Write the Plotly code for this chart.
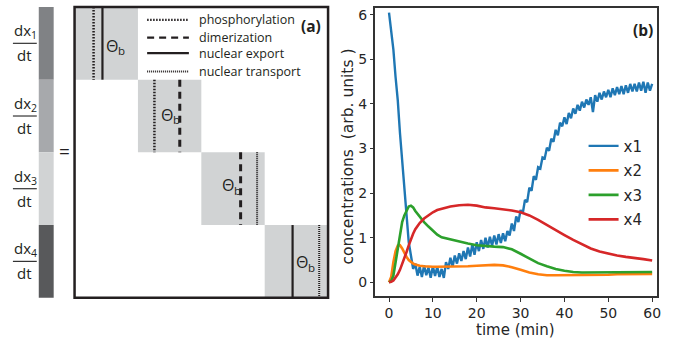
import plotly.graph_objects as go

# ---------------- panel (b) data ----------------
t_x1 = [i * 0.5 for i in range(121)]
x1 = [6.05, 5.62, 5.22, 4.6, 4.08, 3.35, 2.78, 2.05, 1.55, 0.9, 0.6, 0.3, 0.42,
      0.15, 0.35, 0.12, 0.38, 0.16, 0.33, 0.1, 0.36, 0.14, 0.35, 0.12, 0.3,
      0.1, 0.45, 0.3, 0.55, 0.35, 0.6, 0.42, 0.65, 0.48, 0.7, 0.52, 0.78,
      0.58, 0.85, 0.62, 0.9, 0.7, 0.95, 0.75, 1.0, 0.78, 1.02, 0.82, 1.05,
      0.85, 1.08, 0.88, 1.1, 0.92, 1.15, 1.05, 1.32, 1.15, 1.48, 1.35, 1.62,
      1.55, 1.85, 1.8, 2.12, 2.05, 2.38, 2.3, 2.58, 2.55, 2.8, 2.78, 3.02,
      2.95, 3.22, 3.15, 3.42, 3.3, 3.58, 3.5, 3.7, 3.55, 3.8, 3.68, 3.9,
      3.78, 3.98, 3.85, 4.05, 3.92, 4.1, 3.98, 4.15, 3.82, 4.2, 4.05, 4.25,
      4.1, 4.28, 4.15, 4.32, 4.15, 4.35, 4.2, 4.38, 4.22, 4.4, 4.22, 4.42,
      4.25, 4.45, 4.28, 4.45, 4.28, 4.48, 4.3, 4.5, 4.25, 4.48, 4.3, 4.45]

t_s = [0, 0.5, 1, 1.5, 2, 2.5, 3, 3.5, 4, 4.5, 5, 5.5, 6, 7, 8, 9, 10, 11, 12,
       14, 16, 18, 20, 22, 24, 26, 28, 30, 32, 34, 36, 38, 40, 42, 44, 46, 48,
       50, 52, 54, 56, 58, 60]
x2 = [0, 0.12, 0.45, 0.7, 0.82, 0.83, 0.76, 0.66, 0.57, 0.5, 0.45, 0.42, 0.4,
      0.37, 0.36, 0.35, 0.35, 0.35, 0.35, 0.35, 0.35, 0.36, 0.37, 0.38, 0.39,
      0.38, 0.34, 0.28, 0.22, 0.18, 0.16, 0.16, 0.16, 0.16, 0.16, 0.16, 0.17,
      0.17, 0.18, 0.18, 0.18, 0.19, 0.19]
x3 = [0, 0.03, 0.15, 0.45, 0.8, 1.1, 1.35, 1.5, 1.62, 1.7, 1.72, 1.68, 1.6,
      1.47, 1.35, 1.25, 1.16, 1.07, 1.01, 0.96, 0.92, 0.87, 0.83, 0.81, 0.8,
      0.79, 0.74, 0.64, 0.53, 0.43, 0.36, 0.3, 0.26, 0.23, 0.22, 0.22, 0.22,
      0.22, 0.22, 0.22, 0.23, 0.23, 0.23]
x4 = [0, 0.01, 0.04, 0.1, 0.18, 0.28, 0.4, 0.53, 0.68, 0.83, 0.97, 1.09, 1.19,
      1.33, 1.43, 1.51, 1.57, 1.62, 1.65, 1.7, 1.73, 1.74, 1.72, 1.68, 1.66,
      1.64, 1.61, 1.57, 1.5, 1.4, 1.28, 1.17, 1.06, 0.95, 0.85, 0.76, 0.69,
      0.64, 0.6, 0.57, 0.55, 0.52, 0.49]

series_names = ["x1", "x2", "x3", "x4"]
series_colors = ["#1f77b4", "#ff7f0e", "#2ca02c", "#d62728"]
x_ticks = [0, 10, 20, 30, 40, 50, 60]
y_ticks = [0, 1, 2, 3, 4, 5, 6]

# ---------------- panel (a) data ----------------
row_index = [0, 1, 2, 3]
row_labels = ["dx<sub>1</sub>", "dx<sub>2</sub>", "dx<sub>3</sub>", "dx<sub>4</sub>"]
row_colors = ["#808285", "#a7a9ac", "#d1d3d4", "#58595b"]
block_kinds = [["phos", "export"], ["phos", "dimer"], ["dimer", "transport"], ["export", "transport"]]
legend_kinds = ["phos", "dimer", "export", "transport"]
legend_labels = ["phosphorylation", "dimerization", "nuclear export", "nuclear transport"]

# ---------------- styling / layout constants ----------------
W, H = 685, 340
FONT_L = "Open Sans"
FONT_R = "DejaVu Sans"
INK = "#231f20"
block_line_frac = [[0.30, 0.44], [0.26, 0.66], [0.62, 0.88], [0.44, 0.86]]
theta_frac = [(0.46, 0.53), (0.33, 0.48), (0.29, 0.45), (0.47, 0.51)]
kind_style = {
    "phos": dict(color=INK, width=2.5, dash="1.5px,1.5px"),
    "dimer": dict(color=INK, width=3, dash="7px,5px"),
    "export": dict(color=INK, width=2.2, dash="solid"),
    "transport": dict(color=INK, width=2, dash="1px,1px"),
}

# left panel unit mapping (matrix units)
L_X0, L_UX = 75.0, 63.75
L_Y0, L_UY = 6.0, 72.9


def lx(px):
    return (px - L_X0) / L_UX


def ly(py):
    return (py - L_Y0) / L_UY


fig = go.Figure()

# panel (b) traces
fig.add_trace(go.Scatter(x=t_x1, y=x1, mode="lines", name=series_names[0],
                         line=dict(color=series_colors[0], width=2.4),
                         legendgroup="g1", xaxis="x", yaxis="y"))
for nm, col, ys, lg in zip(series_names[1:], series_colors[1:], [x2, x3, x4], ["g2", "g3", "g4"]):
    fig.add_trace(go.Scatter(x=t_s, y=ys, mode="lines", name=nm,
                             line=dict(color=col, width=2.6),
                             legendgroup=lg, xaxis="x", yaxis="y"))

# invisible trace to activate the left (matrix) axes
fig.add_trace(go.Scatter(x=[0], y=[0], mode="markers", marker=dict(opacity=0),
                         showlegend=False, hoverinfo="skip", xaxis="x2", yaxis="y2"))

shapes = []
annotations = []

# left column of coloured bars with d x_i / dt labels
for i, c in zip(row_index, row_colors):
    shapes.append(dict(type="rect", xref="x2", yref="y2", x0=lx(39), x1=lx(54),
                       y0=i, y1=i + 1, fillcolor=c, line=dict(width=0)))
    shapes.append(dict(type="line", xref="x2", yref="y2", x0=lx(13), x1=lx(37),
                       y0=i + 0.5, y1=i + 0.5, line=dict(color="#333333", width=1.2)))
    annotations.append(dict(xref="x2", yref="y2", x=lx(26), y=i + 0.5, text=row_labels[i],
                            showarrow=False, xanchor="center", yanchor="bottom", yshift=-1,
                            font=dict(family=FONT_L, size=15, color=INK)))
    annotations.append(dict(xref="x2", yref="y2", x=lx(25), y=i + 0.5, text="dt",
                            showarrow=False, xanchor="center", yanchor="top", yshift=0,
                            font=dict(family=FONT_L, size=15, color=INK)))

# grey diagonal blocks
for i in row_index:
    shapes.append(dict(type="rect", xref="x2", yref="y2", x0=i, x1=i + 1, y0=i, y1=i + 1,
                       fillcolor="#d1d3d4", line=dict(width=0)))
    for f, k in zip(block_line_frac[i], block_kinds[i]):
        shapes.append(dict(type="line", xref="x2", yref="y2", x0=i + f, x1=i + f,
                           y0=i, y1=i + 1, line=kind_style[k]))
    tf = theta_frac[i]
    annotations.append(dict(xref="x2", yref="y2", x=i + tf[0], y=i + tf[1],
                            text="\u0398", showarrow=False, xanchor="left", yanchor="middle",
                            font=dict(family=FONT_L, size=16, color=INK)))
    annotations.append(dict(xref="x2", yref="y2", x=i + tf[0], y=i + tf[1],
                            text="b", showarrow=False, xanchor="left", yanchor="middle",
                            xshift=12, yshift=-5,
                            font=dict(family=FONT_L, size=11.5, color=INK)))

# matrix outline
shapes.append(dict(type="rect", xref="x2", yref="y2", x0=0, x1=4, y0=0, y1=4,
                   line=dict(color=INK, width=2.5)))

# legend of panel (a)
leg_rows_px = [19, 36.7, 52.3, 70.7]
for py, k, lab in zip(leg_rows_px, legend_kinds, legend_labels):
    st = dict(kind_style[k])
    st["width"] = min(st["width"], 2.2)
    shapes.append(dict(type="line", xref="x2", yref="y2", x0=lx(148), x1=lx(190),
                       y0=ly(py), y1=ly(py), line=st))
    annotations.append(dict(xref="x2", yref="y2", x=lx(198), y=ly(py), text=lab,
                            showarrow=False, xanchor="left", yanchor="middle",
                            font=dict(family=FONT_L, size=12.5, color=INK)))

annotations.append(dict(xref="x2", yref="y2", x=lx(313), y=ly(25), text="<b>(a)</b>",
                        showarrow=False, xanchor="center", yanchor="middle",
                        font=dict(family=FONT_L, size=15.5, color=INK)))
annotations.append(dict(xref="x2", yref="y2", x=lx(64.5), y=ly(150), text="=",
                        showarrow=False, xanchor="center", yanchor="middle",
                        font=dict(family=FONT_L, size=19, color=INK)))

# panel (b) texts
annotations.append(dict(xref="paper", yref="paper", x=646.5 / W, y=1 - 29.5 / H,
                        text="<b>(b)</b>", showarrow=False, xanchor="center", yanchor="middle",
                        font=dict(family=FONT_L, size=15.5, color=INK)))
annotations.append(dict(xref="paper", yref="paper", x=519 / W, y=1 - 329.5 / H,
                        text="time (min)", showarrow=False, xanchor="center", yanchor="middle",
                        font=dict(family=FONT_R, size=15, color="#262626")))
annotations.append(dict(xref="paper", yref="paper", x=350 / W, y=1 - 156 / H,
                        text="concentrations  (arb. units )", textangle=-90, showarrow=False,
                        xanchor="center", yanchor="middle",
                        font=dict(family=FONT_R, size=15.5, color="#262626")))

axis_common = dict(showgrid=False, zeroline=False, showline=True, mirror=True,
                   linecolor="#333333", linewidth=2, ticks="outside", ticklen=3.5,
                   tickwidth=1.3, tickcolor="#333333",
                   tickfont=dict(family=FONT_R, size=14, color="#262626"))

fig.update_layout(
    width=W, height=H,
    margin=dict(l=0, r=0, t=0, b=0),
    paper_bgcolor="white", plot_bgcolor="white",
    xaxis=dict(domain=[377.7 / W, 660.7 / W], range=[-3.08, 61.07],
               tickvals=x_ticks, anchor="y", **axis_common),
    yaxis=dict(domain=[1 - 296 / H, 1 - 6.7 / H], range=[-0.31, 6.16],
               tickvals=y_ticks, anchor="x", **axis_common),
    xaxis2=dict(domain=[0, 340 / W], range=[lx(0), lx(340)], visible=False, anchor="y2"),
    yaxis2=dict(domain=[0, 1], range=[ly(340), ly(0)], visible=False, anchor="x2"),
    shapes=shapes,
    annotations=annotations,
    showlegend=True,
    legend=dict(x=587 / W, y=1 - 129 / H, xanchor="left", yanchor="top",
                bgcolor="rgba(255,255,255,0)", traceorder="grouped", tracegroupgap=2,
                font=dict(family=FONT_R, size=15, color="#262626")),
)

fig.write_html("out.html")
